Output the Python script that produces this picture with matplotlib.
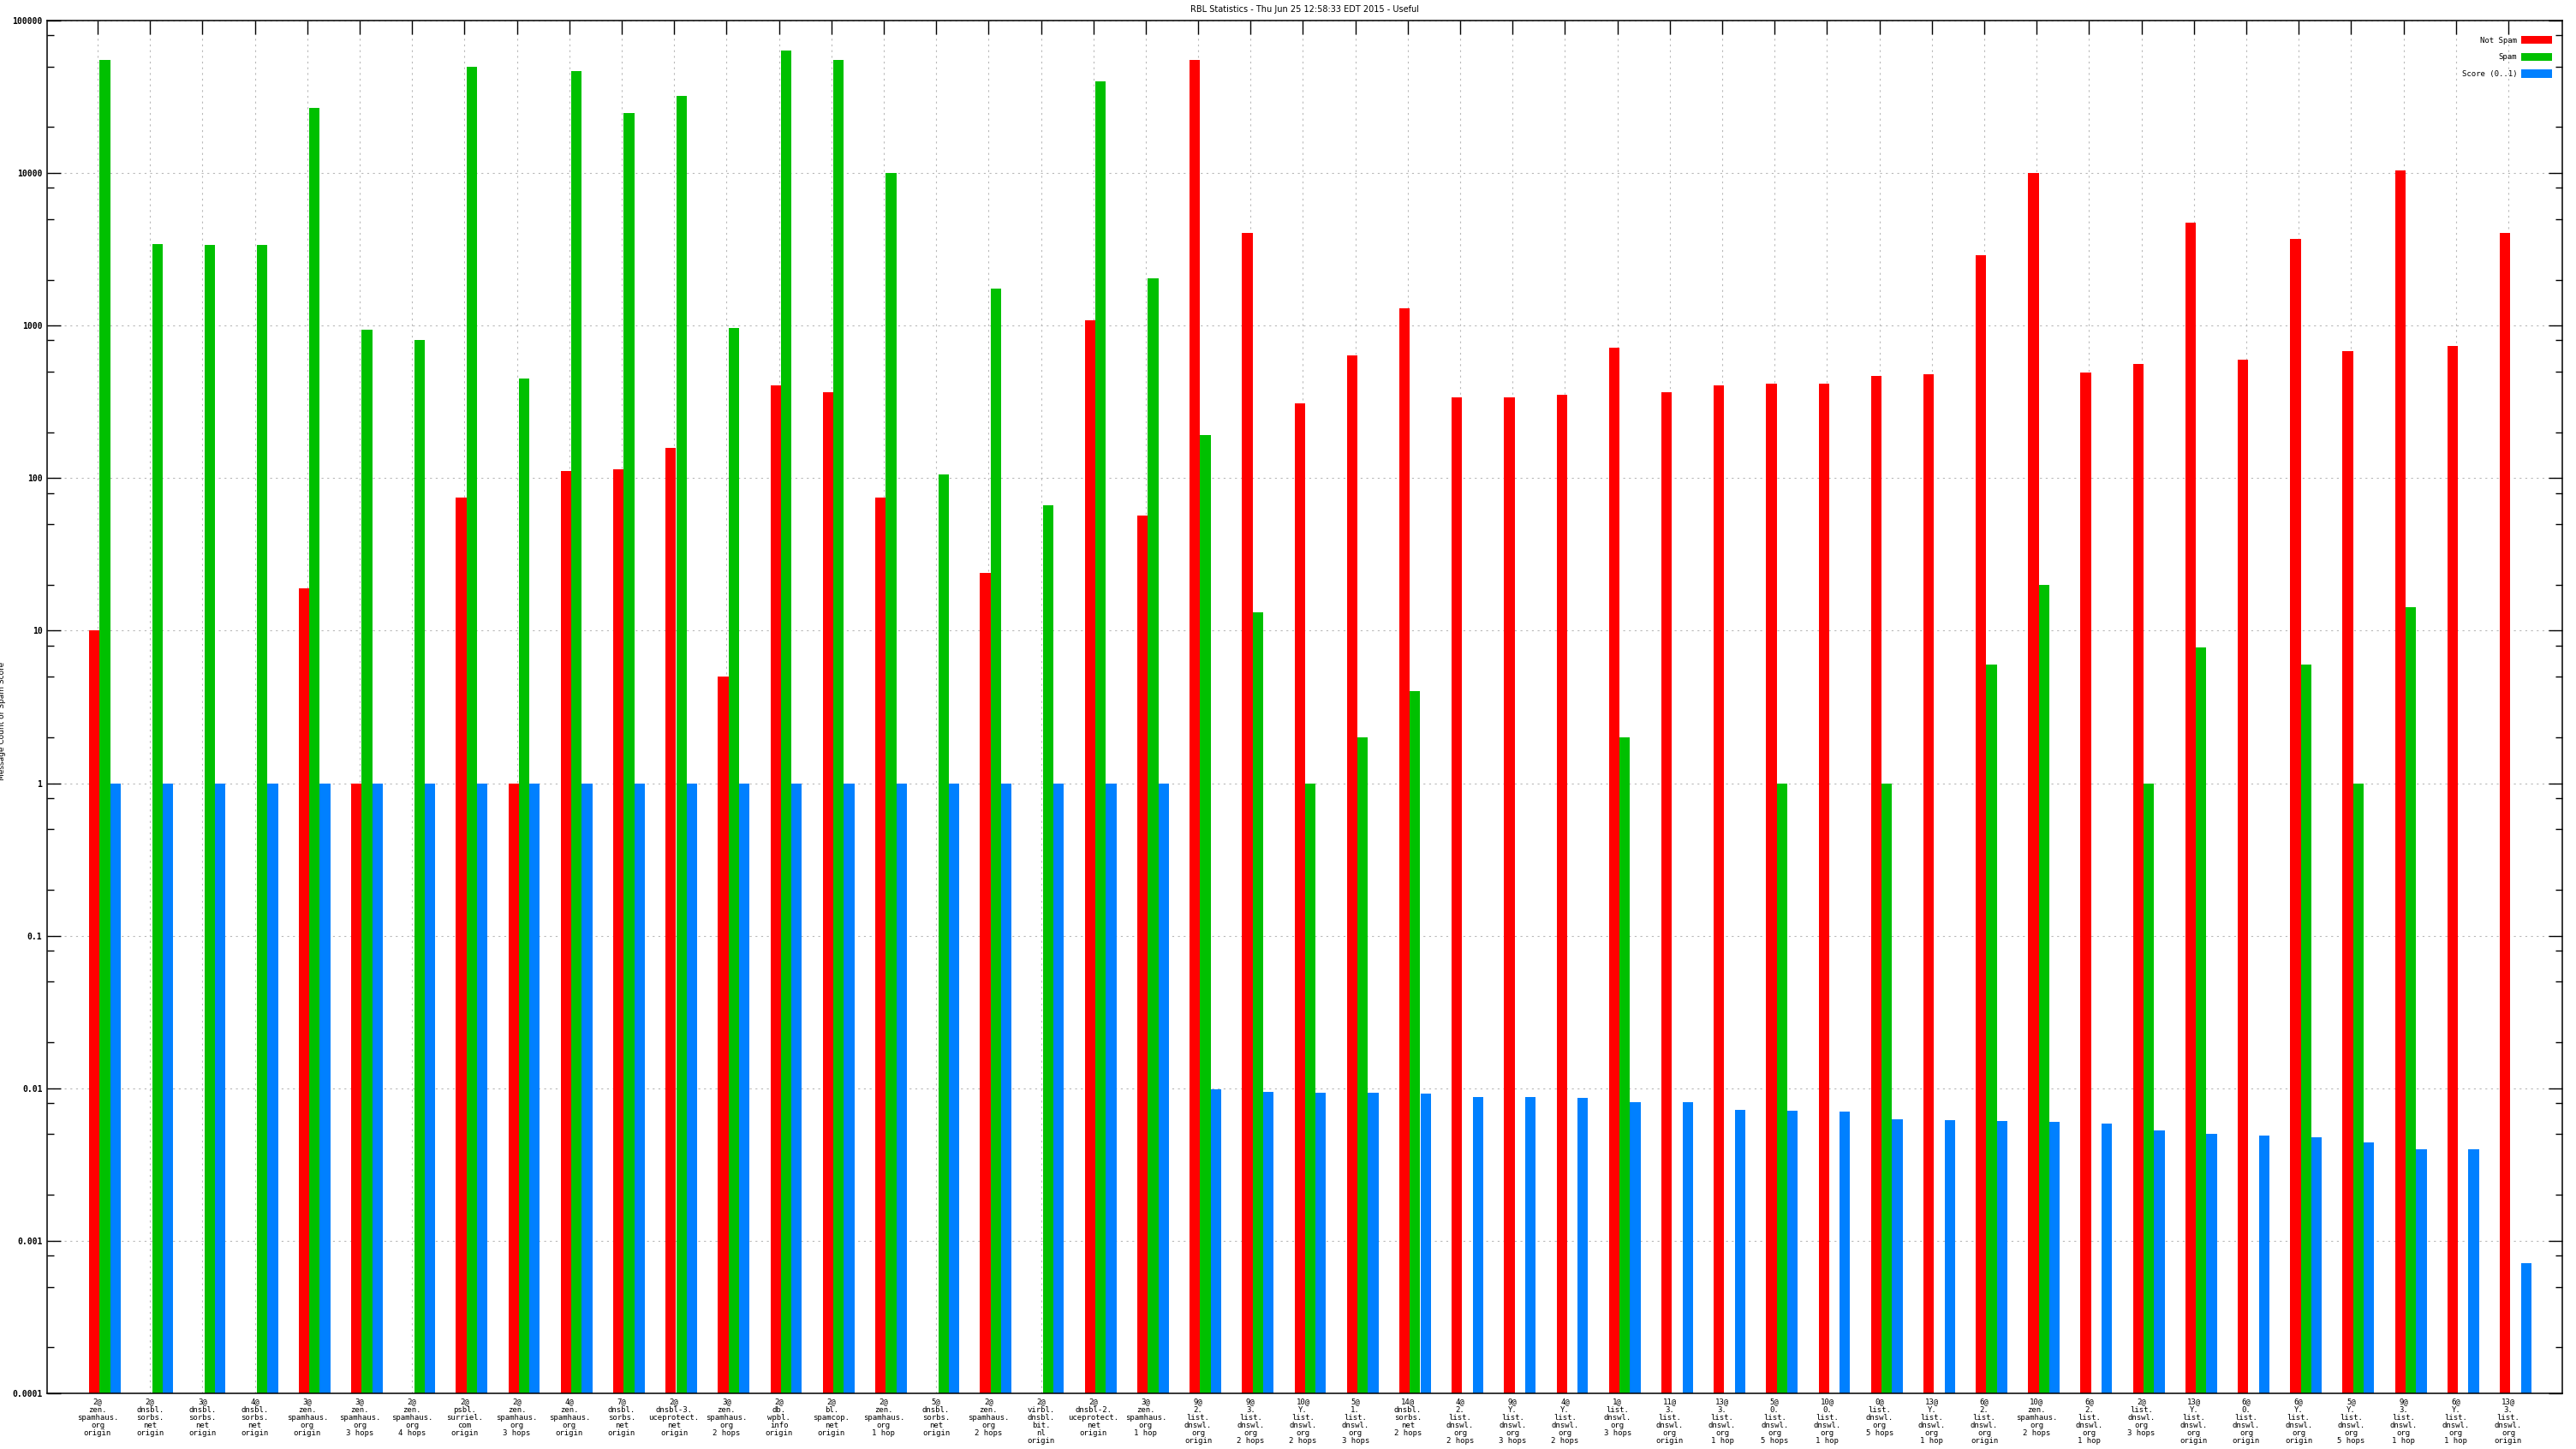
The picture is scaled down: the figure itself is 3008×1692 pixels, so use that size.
import numpy as np
import matplotlib.pyplot as plt
from matplotlib.ticker import FixedLocator, NullFormatter

# category labels (one per cluster)
labels = [
    "2@\nzen.\nspamhaus.\norg\norigin",
    "2@\ndnsbl.\nsorbs.\nnet\norigin",
    "3@\ndnsbl.\nsorbs.\nnet\norigin",
    "4@\ndnsbl.\nsorbs.\nnet\norigin",
    "3@\nzen.\nspamhaus.\norg\norigin",
    "3@\nzen.\nspamhaus.\norg\n3 hops",
    "2@\nzen.\nspamhaus.\norg\n4 hops",
    "2@\npsbl.\nsurriel.\ncom\norigin",
    "2@\nzen.\nspamhaus.\norg\n3 hops",
    "4@\nzen.\nspamhaus.\norg\norigin",
    "7@\ndnsbl.\nsorbs.\nnet\norigin",
    "2@\ndnsbl-3.\nuceprotect.\nnet\norigin",
    "3@\nzen.\nspamhaus.\norg\n2 hops",
    "2@\ndb.\nwpbl.\ninfo\norigin",
    "2@\nbl.\nspamcop.\nnet\norigin",
    "2@\nzen.\nspamhaus.\norg\n1 hop",
    "5@\ndnsbl.\nsorbs.\nnet\norigin",
    "2@\nzen.\nspamhaus.\norg\n2 hops",
    "2@\nvirbl.\ndnsbl.\nbit.\nnl\norigin",
    "2@\ndnsbl-2.\nuceprotect.\nnet\norigin",
    "3@\nzen.\nspamhaus.\norg\n1 hop",
    "9@\n2.\nlist.\ndnswl.\norg\norigin",
    "9@\n3.\nlist.\ndnswl.\norg\n2 hops",
    "10@\nY.\nlist.\ndnswl.\norg\n2 hops",
    "5@\n1.\nlist.\ndnswl.\norg\n3 hops",
    "14@\ndnsbl.\nsorbs.\nnet\n2 hops",
    "4@\n2.\nlist.\ndnswl.\norg\n2 hops",
    "9@\nY.\nlist.\ndnswl.\norg\n3 hops",
    "4@\nY.\nlist.\ndnswl.\norg\n2 hops",
    "1@\nlist.\ndnswl.\norg\n3 hops",
    "11@\n3.\nlist.\ndnswl.\norg\norigin",
    "13@\n3.\nlist.\ndnswl.\norg\n1 hop",
    "5@\n0.\nlist.\ndnswl.\norg\n5 hops",
    "10@\n0.\nlist.\ndnswl.\norg\n1 hop",
    "0@\nlist.\ndnswl.\norg\n5 hops",
    "13@\nY.\nlist.\ndnswl.\norg\n1 hop",
    "6@\n2.\nlist.\ndnswl.\norg\norigin",
    "10@\nzen.\nspamhaus.\norg\n2 hops",
    "6@\n2.\nlist.\ndnswl.\norg\n1 hop",
    "2@\nlist.\ndnswl.\norg\n3 hops",
    "13@\nY.\nlist.\ndnswl.\norg\norigin",
    "6@\n0.\nlist.\ndnswl.\norg\norigin",
    "6@\nY.\nlist.\ndnswl.\norg\norigin",
    "5@\nY.\nlist.\ndnswl.\norg\n5 hops",
    "9@\n3.\nlist.\ndnswl.\norg\n1 hop",
    "6@\nY.\nlist.\ndnswl.\norg\n1 hop",
    "13@\n3.\nlist.\ndnswl.\norg\norigin",
]

nan = np.nan
not_spam = [10, nan, nan, nan, 19, 1, nan, 75, 1, 111, 114, 158, 5, 405, 367, 75,
            nan, 24, nan, 1090, 57, 55000, 4070, 308, 634, 1300, 340, 340, 350,
            718, 367, 405, 415, 415, 470, 480, 2880, 9950, 495, 560, 4730, 600,
            3690, 680, 10450, 735, 4070]
spam = [55000, 3420, 3400, 3400, 26800, 942, 810, 49900, 448, 46400, 24900, 31900,
        967, 64000, 55000, 9950, 106, 1750, 66, 40000, 2030, 192, 13.2, 1, 2, 4,
        nan, nan, nan, 2, nan, nan, 1, nan, 1, nan, 6, 20, nan, 1, 7.8, nan, 6, 1,
        14.2, nan, nan]
score = [1] * 21 + [0.0099, 0.0095, 0.0093, 0.0093, 0.0092, 0.0088, 0.0088, 0.0086,
                    0.0081, 0.0081, 0.0072, 0.0071, 0.0070, 0.0063, 0.0062, 0.0061,
                    0.0060, 0.0059, 0.0053, 0.0050, 0.0049, 0.0048, 0.0044, 0.0040,
                    0.0040, 0.00071]

series = [("Not Spam", not_spam, "#ff0000"),
          ("Spam", spam, "#00c000"),
          ("Score (0..1)", score, "#0080ff")]


def main():
    fig = plt.figure(figsize=(30.08, 16.92), dpi=100)
    ax = fig.add_axes([55 / 3008, 1 - 1627 / 1692, (2992 - 55) / 3008, (1627 - 24) / 1692])

    x = np.arange(len(labels))
    width = 0.2
    offsets = [-0.062, 0.139, 0.34]
    bottom = 1e-4
    for (name, vals, color), off in zip(series, offsets):
        vals = np.array(vals, dtype=float)
        ax.bar(x + off, vals - bottom, width=width, bottom=bottom, color=color,
               label=name, linewidth=0, zorder=2)

    ax.set_yscale("log")
    ax.set_ylim(1e-4, 1e5)
    ax.set_xlim(-0.964, 47.03)

    # ticks
    majors = [10.0 ** k for k in range(-4, 6)]
    minors = [m * 10.0 ** k for k in range(-4, 5) for m in (2, 5, 8)]
    ax.yaxis.set_major_locator(FixedLocator(majors))
    ax.yaxis.set_minor_locator(FixedLocator(minors))
    ax.yaxis.set_minor_formatter(NullFormatter())
    ax.set_yticklabels(["0.0001", "0.001", "0.01", "0.1", "1", "10", "100",
                        "1000", "10000", "100000"],
                       fontsize=7, family="DejaVu Sans Mono", fontweight="bold")
    ax.set_xticks(x)
    ax.set_xticklabels(labels, fontsize=6.5, family="DejaVu Sans Mono",
                       linespacing=1.0)
    ax.tick_params(axis="y", which="major", direction="in", length=11.5,
                   width=1, right=True, pad=4)
    ax.tick_params(axis="y", which="minor", direction="in", length=5.8,
                   width=1, right=True)
    ax.tick_params(axis="x", direction="in", length=11.5, width=1, top=True,
                   bottom=False, pad=4)

    ax.grid(True, which="major", axis="both", color="#b8b8b8",
            linestyle=(0, (2, 4)), linewidth=0.8, zorder=0)
    ax.set_axisbelow(True)
    for s in ax.spines.values():
        s.set_linewidth(1.1)

    ax.set_ylabel("Message Count or Spam Score", fontsize=6.5)
    ax.yaxis.set_label_coords(-0.0165, 0.49)
    fig.text(0.5065, 1 - 11 / 1692, "RBL Statistics - Thu Jun 25 12:58:33 EDT 2015 - Useful",
             ha="center", va="center", fontsize=7)

    ax.legend(loc="upper right", markerfirst=False, frameon=False,
              prop={"family": "DejaVu Sans Mono", "size": 6.5},
              handlelength=3.9, handleheight=1.2, labelspacing=1.1,
              bbox_to_anchor=(0.9995, 0.9955), borderaxespad=0.8,
              handletextpad=0.6)

    fig.savefig("out.png", dpi=100)


if __name__ == "__main__":
    main()
